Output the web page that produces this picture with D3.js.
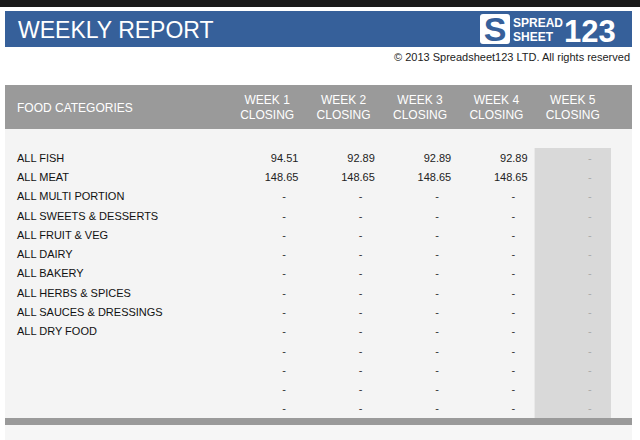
<!DOCTYPE html>
<html><head><meta charset="utf-8">
<script src="https://cdn.jsdelivr.net/npm/d3@7"></script>
<style>body{margin:0;background:#fff}</style>
</head><body>
<script>
const categories = ['ALL FISH','ALL MEAT','ALL MULTI PORTION','ALL SWEETS & DESSERTS','ALL FRUIT & VEG',
  'ALL DAIRY','ALL BAKERY','ALL HERBS & SPICES','ALL SAUCES & DRESSINGS','ALL DRY FOOD','','','',''];
const weeks = ['WEEK 1','WEEK 2','WEEK 3','WEEK 4','WEEK 5'];
const week1 = [94.51,148.65];
const week2 = [92.89,148.65];
const week3 = [92.89,148.65];
const week4 = [92.89,148.65];
const week5 = [];
const series = [week1, week2, week3, week4, week5];

const W = 640, H = 440, font = 'Liberation Sans, Arial, sans-serif';
const svg = d3.select('body').append('svg').attr('width', W).attr('height', H).style('font-family', font);

svg.append('rect').attr('width', W).attr('height', 7).attr('fill', '#1a1a1a');
svg.append('rect').attr('x', 5).attr('y', 11).attr('width', 627).attr('height', 36).attr('fill', '#36609a');
svg.append('text').attr('x', 18).attr('y', 38).attr('fill', '#fff').style('font-size', '23px').text('WEEKLY REPORT');

// logo
const logo = svg.append('g').attr('transform', 'translate(480,14)');
logo.append('rect').attr('width', 30).attr('height', 30).attr('rx', 3).attr('fill', '#fff');
logo.append('text').attr('x', 15).attr('y', 27).attr('text-anchor', 'middle').attr('fill', '#36609a')
  .style('font-size', '34px').style('font-weight', 'bold').text('S');
logo.append('text').attr('x', 33).attr('y', 13).attr('fill', '#fff').style('font-size', '12px').style('font-weight','bold').text('SPREAD');
logo.append('text').attr('x', 33).attr('y', 27).attr('fill', '#fff').style('font-size', '12px').style('font-weight','bold').text('SHEET');
logo.append('text').attr('x', 84).attr('y', 28).attr('fill', '#fff').style('font-size', '31px').style('font-weight','bold').text('123');

svg.append('text').attr('x', 630).attr('y', 61).attr('text-anchor', 'end').attr('fill', '#222')
  .style('font-size', '11px').text('© 2013 Spreadsheet123 LTD. All rights reserved');

// header band
svg.append('rect').attr('x', 5).attr('y', 85).attr('width', 627).attr('height', 44).attr('fill', '#9a9a9a');
svg.append('rect').attr('x', 5).attr('y', 129).attr('width', 627).attr('height', 289).attr('fill', '#f4f4f4');
svg.append('rect').attr('x', 5).attr('y', 418).attr('width', 627).attr('height', 7).attr('fill', '#9a9a9a');
svg.append('rect').attr('x', 5).attr('y', 425).attr('width', 627).attr('height', 15).attr('fill', '#f6f6f6');

const x = d3.scaleBand().domain(weeks).range([229, 611]);
const y = d3.scaleBand().domain(d3.range(categories.length)).range([148, 418]);

svg.append('rect').attr('x', x('WEEK 5')).attr('y', 148).attr('width', x.bandwidth()).attr('height', 270).attr('fill', '#d9d9d9');

svg.append('text').attr('x', 17).attr('y', 112).attr('fill', '#fff').style('font-size', '12px').text('FOOD CATEGORIES');
weeks.forEach(w => {
  const t = svg.append('text').attr('x', x(w) + x.bandwidth() / 2).attr('text-anchor', 'middle')
    .attr('fill', '#fff').style('font-size', '12px');
  t.append('tspan').attr('x', x(w) + x.bandwidth() / 2).attr('y', 104).text(w);
  t.append('tspan').attr('x', x(w) + x.bandwidth() / 2).attr('y', 119).text('CLOSING');
});

categories.forEach((c, i) => {
  const cy = y(i) + y.bandwidth() / 2 + 4;
  svg.append('text').attr('x', 17).attr('y', cy).attr('fill', '#111').style('font-size', '11px').text(c);
  weeks.forEach((w, j) => {
    const v = series[j][i];
    if (v !== undefined) {
      svg.append('text').attr('x', x(w) + x.bandwidth() - 7).attr('y', cy).attr('text-anchor', 'end')
        .attr('fill', '#222').style('font-size', '11px').text(v.toFixed(2));
    } else {
      svg.append('text').attr('x', x(w) + x.bandwidth() / 2 + 17).attr('y', cy).attr('text-anchor', 'middle')
        .attr('fill', j === 4 ? '#aaa' : '#333').style('font-size', '11px').text('-');
    }
  });
});
</script>
</body></html>
